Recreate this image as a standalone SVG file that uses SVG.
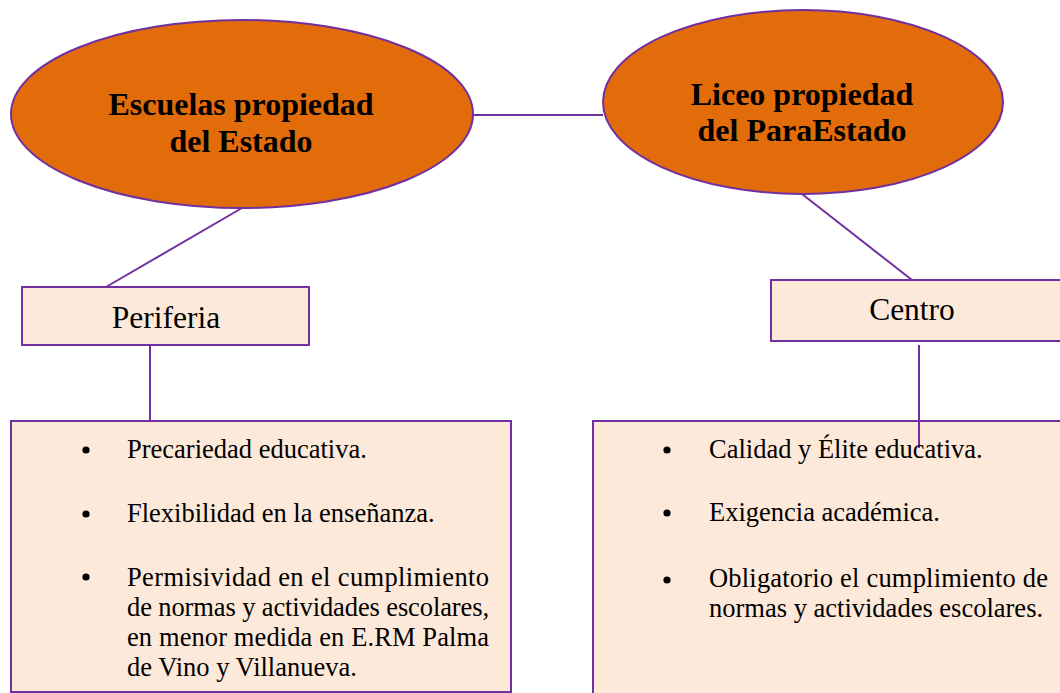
<svg xmlns="http://www.w3.org/2000/svg" width="1060" height="693" viewBox="0 0 1060 693">
<style>
.ell{fill:#E36C0A;stroke:#7030A0;stroke-width:2}
.box{fill:#FDE9D9;stroke:#7030A0;stroke-width:2}
.con{stroke:#7030A0;stroke-width:2;fill:none}
.title{font-family:"Liberation Serif","Times New Roman",serif;font-weight:bold;font-size:32px;fill:#000;text-anchor:middle}
.lbl{font-family:"Liberation Serif","Times New Roman",serif;font-size:31.5px;fill:#000;text-anchor:middle}
.item{font-family:"Liberation Serif","Times New Roman",serif;font-size:26.5px;fill:#000}
.dot{fill:#000}
</style>
<rect width="1060" height="693" fill="#fff"/>
<g id="connectors">
<line class="con" x1="473" y1="115" x2="603" y2="115"/>
<line class="con" x1="242" y1="208" x2="106" y2="287"/>
<line class="con" x1="802" y1="194" x2="912" y2="280"/>
<line class="con" x1="150" y1="345" x2="150" y2="421"/>
</g>
<g id="escuelas">
<ellipse class="ell" cx="242" cy="114" rx="231" ry="94"/>
<text class="title" x="241" y="115">Escuelas propiedad</text>
<text class="title" x="241" y="152">del Estado</text>
</g>
<g id="liceo">
<ellipse class="ell" cx="803" cy="102" rx="200" ry="92"/>
<text class="title" x="802" y="105">Liceo propiedad</text>
<text class="title" x="802" y="141">del ParaEstado</text>
</g>
<g id="periferia">
<rect class="box" x="22" y="287" width="287" height="58"/>
<text class="lbl" x="166" y="328">Periferia</text>
</g>
<g id="centro">
<rect class="box" x="771" y="280" width="295" height="61"/>
<text class="lbl" x="912" y="320">Centro</text>
</g>
<g id="periferia-items">
<rect class="box" x="11" y="421" width="500" height="271"/>
<circle class="dot" cx="86" cy="450" r="3.6"/>
<circle class="dot" cx="86" cy="514" r="3.6"/>
<circle class="dot" cx="86" cy="577" r="3.6"/>
<text class="item" x="127" y="458">Precariedad educativa.</text>
<text class="item" x="127" y="522">Flexibilidad en la enseñanza.</text>
<text class="item" x="127" y="586" textLength="362" lengthAdjust="spacing">Permisividad en el cumplimiento</text>
<text class="item" x="127" y="616" textLength="362" lengthAdjust="spacing">de normas y actividades escolares,</text>
<text class="item" x="127" y="646" textLength="362" lengthAdjust="spacing">en menor medida en E.RM Palma</text>
<text class="item" x="127" y="676">de Vino y Villanueva.</text>
</g>
<g id="centro-items">
<rect class="box" x="593" y="421" width="480" height="280"/>
<line class="con" x1="919" y1="345" x2="919" y2="448"/>
<circle class="dot" cx="667" cy="450" r="3.6"/>
<circle class="dot" cx="667" cy="513" r="3.6"/>
<circle class="dot" cx="667" cy="580" r="3.6"/>
<text class="item" x="709" y="458">Calidad y Élite educativa.</text>
<text class="item" x="709" y="521">Exigencia académica.</text>
<text class="item" x="709" y="587" textLength="339" lengthAdjust="spacing">Obligatorio el cumplimiento de</text>
<text class="item" x="709" y="617">normas y actividades escolares.</text>
</g>
</svg>
